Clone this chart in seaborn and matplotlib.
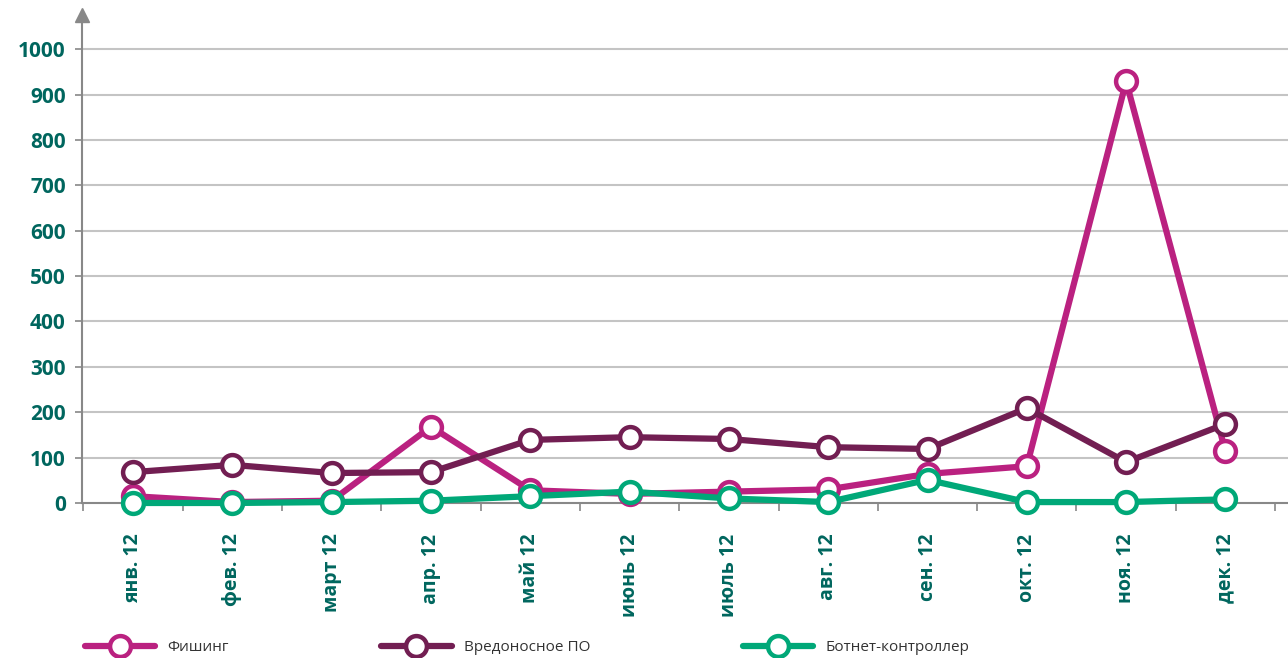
import matplotlib
matplotlib.use("Agg")
import matplotlib.pyplot as plt
import seaborn as sns
import pandas as pd
from matplotlib.lines import Line2D

# data
months = ['янв. 12', 'фев. 12', 'март 12', 'апр. 12', 'май 12', 'июнь 12',
          'июль 12', 'авг. 12', 'сен. 12', 'окт. 12', 'ноя. 12', 'дек. 12']
phishing = [15, 2, 5, 168, 28, 20, 25, 30, 64, 81, 929, 114]
malware = [68, 84, 66, 68, 139, 145, 141, 123, 119, 209, 90, 174]
botnet = [0, 0, 2, 5, 15, 25, 10, 2, 51, 2, 2, 8]

series = ['Фишинг', 'Вредоносное ПО', 'Ботнет-контроллер']
colors = ['#BA2180', '#721E52', '#00A878']
yticks = list(range(0, 1001, 100))

sns.set_theme(style="white")
plt.rcParams['font.family'] = ['Open Sans', 'DejaVu Sans']

fig = plt.figure(figsize=(12.88, 6.58), dpi=100)
ax = fig.add_axes([0.064, 0.2356, 0.936, 0.7414])

x = list(range(len(months)))
for name, vals, col in zip(series, [phishing, malware, botnet], colors):
    sns.lineplot(x=x, y=vals, ax=ax, color=col, lw=4.5, marker='o',
                 markersize=15, markerfacecolor='white', markeredgecolor=col,
                 markeredgewidth=3.2, sort=False, clip_on=False, zorder=3)

ax.set_xlim(-0.51, 11.63)
ax.set_ylim(0, 1075)
ax.set_yticks(yticks)
ax.set_yticklabels([str(v) for v in yticks], fontsize=15, fontweight='bold', color='#00665E')
ax.set_xticks(x)
ax.set_xticklabels(months, rotation=90, fontsize=14, fontweight='bold', color='#00665E')
ax.tick_params(axis='x', length=0, pad=22)
ax.tick_params(axis='y', length=5, width=1.2, color='#888888', left=True, pad=7)
ax.set_xticks([i + 0.5 for i in range(-1, 12)], minor=True)
ax.tick_params(axis='x', which='minor', length=6, width=1.2, color='#888888', bottom=True)

for v in yticks[1:]:
    ax.axhline(v, color='#C4C4C4', lw=1.5, zorder=1)

for s in ['top', 'right']:
    ax.spines[s].set_visible(False)
ax.spines['left'].set_color('#888888')
ax.spines['left'].set_linewidth(1.5)
ax.spines['bottom'].set_color('#888888')
ax.spines['bottom'].set_linewidth(1.5)
ax.plot([0], [1], marker='^', color='#888888', markersize=10,
        transform=ax.transAxes, clip_on=False)
ax.set_xlabel('')
ax.set_ylabel('')

handles = [Line2D([], [], color=c, lw=4.5, marker='o', markersize=15,
                  markerfacecolor='white', markeredgecolor=c, markeredgewidth=3.2)
           for c in colors]
fig.legend(handles, series, loc='lower left', bbox_to_anchor=(0.055, -0.017),
           ncol=3, frameon=False, fontsize=11, handlelength=4.6,
           columnspacing=10.0, labelcolor='#333333')

fig.savefig('out.png', dpi=100)
